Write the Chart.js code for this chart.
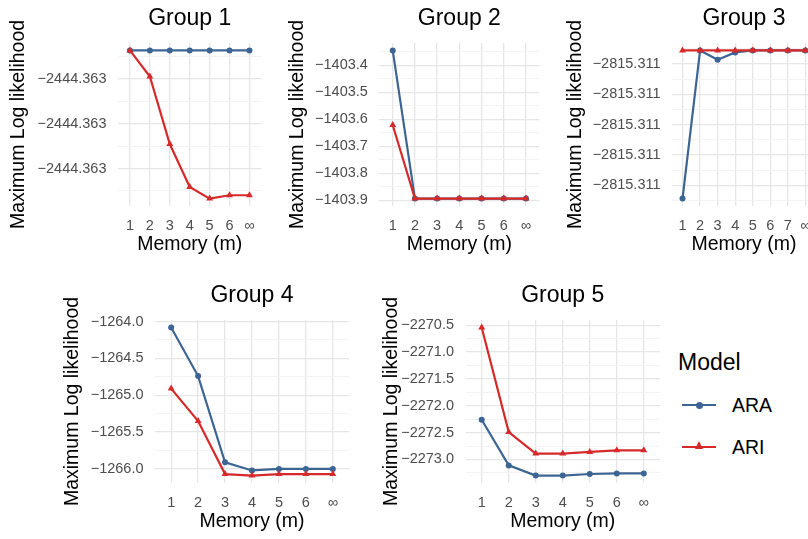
<!DOCTYPE html>
<html>
<head>
<meta charset="utf-8">
<script src="https://cdn.jsdelivr.net/npm/chart.js@4.4.1/dist/chart.umd.min.js"></script>
<style>
  html, body { margin: 0; padding: 0; background: #fff; }
  body { width: 808px; height: 539px; position: relative; overflow: hidden;
         font-family: "Liberation Sans", Arial, Helvetica, sans-serif; }
  .panel { position: absolute; }
  .lg { position: absolute; color: #000; white-space: nowrap; }
  .key { position: absolute; height: 2px; }
  .dot { position: absolute; width: 7px; height: 7px; border-radius: 50%; }
  .tri { position: absolute; width: 0; height: 0; border-left: 4.5px solid transparent;
         border-right: 4.5px solid transparent; border-bottom: 8px solid #d62a2a; }
</style>
</head>
<body>
<canvas class="panel" id="c1"></canvas>
<canvas class="panel" id="c2"></canvas>
<canvas class="panel" id="c3"></canvas>
<canvas class="panel" id="c4"></canvas>
<canvas class="panel" id="c5"></canvas>

<!-- legend -->
<div class="lg" style="left:678px; top:349px; font-size:23px; line-height:26px;">Model</div>
<div class="key" style="left:682px; top:404px; width:34px; background:#3d6593;"></div>
<div class="dot" style="left:695.5px; top:401.5px; background:#3d6593;"></div>
<div class="lg" style="left:732px; top:394px; font-size:19.5px; line-height:22px;">ARA</div>
<div class="key" style="left:682px; top:446px; width:34px; background:#d62a2a;"></div>
<div class="tri" style="left:694.5px; top:441px;"></div>
<div class="lg" style="left:732px; top:436px; font-size:19.5px; line-height:22px;">ARI</div>

<script>
// x categories (memory m)
var memory7 = ['1', '2', '3', '4', '5', '6', '\u221e'];
var memory8 = ['1', '2', '3', '4', '5', '6', '7', '\u221e'];

// Group 1
var g1ARA = [-2444.3627366, -2444.3627366, -2444.3627366, -2444.3627366, -2444.3627366, -2444.3627366, -2444.3627366];
var g1ARI = [-2444.3627366, -2444.3627949, -2444.3629455, -2444.3630411, -2444.3630671, -2444.3630597, -2444.3630597];
var g1Ticks = [-2444.3628, -2444.3629, -2444.3630];

// Group 2
var g2ARA = [-1403.345, -1403.893, -1403.893, -1403.893, -1403.893, -1403.893, -1403.893];
var g2ARI = [-1403.621, -1403.893, -1403.893, -1403.893, -1403.893, -1403.893, -1403.893];
var g2Ticks = [-1403.4, -1403.5, -1403.6, -1403.7, -1403.8, -1403.9];

// Group 3
var g3ARA = [-2815.3114876, -2815.3105104, -2815.3105717, -2815.3105236, -2815.3105104, -2815.3105104, -2815.3105104, -2815.3105104];
var g3ARI = [-2815.3105104, -2815.3105104, -2815.3105104, -2815.3105104, -2815.3105104, -2815.3105104, -2815.3105104, -2815.3105104];
var g3Ticks = [-2815.3106, -2815.3108, -2815.3110, -2815.3112, -2815.3114];

// Group 4
var g4ARA = [-1264.08, -1264.74, -1265.91, -1266.02, -1266.00, -1266.00, -1266.00];
var g4ARI = [-1264.91, -1265.35, -1266.07, -1266.09, -1266.07, -1266.07, -1266.07];
var g4Ticks = [-1264.0, -1264.5, -1265.0, -1265.5, -1266.0];

// Group 5
var g5ARA = [-2272.26, -2273.11, -2273.30, -2273.30, -2273.27, -2273.26, -2273.26];
var g5ARI = [-2270.54, -2272.49, -2272.89, -2272.89, -2272.86, -2272.83, -2272.83];
var g5Ticks = [-2270.5, -2271.0, -2271.5, -2272.0, -2272.5, -2273.0];

var FONT = '"Liberation Sans", Arial, Helvetica, sans-serif';
var BLUE = '#3d6593';
var RED = '#d62a2a';

// 面板位置
var layouts = {
    c1: { left: 0,   top: 0,   yTitleX: 19,  plotLeft: 118,   plotRight: 262 },
    c2: { left: 270, top: 0,   yTitleX: 298, plotLeft: 379.4, plotRight: 539.3 },
    c3: { left: 545, top: 0,   yTitleX: 576, plotLeft: 672,   plotRight: 817.3 },
    c4: { left: 40,  top: 277, yTitleX: 73,  plotLeft: 155,   plotRight: 349 },
    c5: { left: 360, top: 277, yTitleX: 392, plotLeft: 465.5, plotRight: 660 }
};

function fmt(v, d) {
    var s = Math.abs(v).toFixed(d);
    return (v < 0 ? '\u2212' : '') + s;
}

function makePanel(id, title, cats, ara, ari, majors, decimals) {
    var lay = layouts[id];
    var canvas = document.getElementById(id);
    var H = 262;
    var W = Math.ceil(lay.plotRight + 4 - lay.left);
    canvas.width = W;
    canvas.height = H;
    canvas.style.left = lay.left + 'px';
    canvas.style.top = lay.top + 'px';
    canvas.style.width = W + 'px';
    canvas.style.height = H + 'px';

    var padLeft = lay.yTitleX - 11.7 - lay.left;
    var yWidth = lay.plotLeft - lay.left - padLeft;
    var padRight = W - (lay.plotRight - lay.left);

    // ggplot-style 5% expansion
    var all = ara.concat(ari);
    var lo = Math.min.apply(null, all), hi = Math.max.apply(null, all);
    var ex = (hi - lo) * 0.05;
    var yMin = lo - ex, yMax = hi + ex;

    var step = majors[1] - majors[0];
    var yTicks = majors.map(function(v) { return { value: v, minor: false }; });
    var mids = [majors[0] - step / 2];
    for (var i = 0; i < majors.length; i++) mids.push(majors[i] + step / 2);
    mids.forEach(function(v) {
        if (v >= yMin && v <= yMax) yTicks.push({ value: v, minor: true });
    });
    yTicks.sort(function(a, b) { return a.value - b.value; });

    var toPts = function(arr) {
        return arr.map(function(y, i) { return { x: i + 1, y: y }; });
    };

    return new Chart(canvas.getContext('2d'), {
        type: 'line',
        data: {
            datasets: [{
                label: 'ARA',
                data: toPts(ara),
                borderColor: BLUE,
                backgroundColor: BLUE,
                borderWidth: 2.2,
                pointStyle: 'circle',
                pointRadius: 3,
                pointBorderWidth: 0,
                tension: 0,
                order: 1
            }, {
                label: 'ARI',
                data: toPts(ari),
                borderColor: RED,
                backgroundColor: RED,
                borderWidth: 2.2,
                pointStyle: 'triangle',
                pointRadius: 4,
                pointBorderWidth: 0,
                tension: 0,
                order: 0
            }]
        },
        options: {
            responsive: false,
            animation: false,
            devicePixelRatio: 1,
            layout: { padding: { left: padLeft, right: padRight, top: 0, bottom: 6 } },
            plugins: {
                legend: { display: false },
                tooltip: { enabled: false },
                title: {
                    display: true,
                    text: title,
                    fullSize: false,
                    color: '#000',
                    font: { family: FONT, size: 23, weight: 'normal', lineHeight: 1.2 },
                    padding: { top: 4.5, bottom: 10.9 }
                }
            },
            scales: {
                x: {
                    type: 'linear',
                    min: 0.4,
                    max: cats.length + 0.6,
                    afterBuildTicks: function(scale) {
                        scale.ticks = cats.map(function(c, i) { return { value: i + 1 }; });
                    },
                    afterFit: function(scale) { scale.height = 50; },
                    ticks: {
                        autoSkip: false,
                        maxRotation: 0,
                        padding: 11,
                        color: '#4d4d4d',
                        font: { family: FONT, size: 14.5 },
                        callback: function(v) { return cats[Math.round(v) - 1]; }
                    },
                    grid: { color: '#e6e6e6', lineWidth: 1.3, drawTicks: false },
                    border: { display: false },
                    title: {
                        display: true,
                        text: 'Memory (m)',
                        color: '#000',
                        padding: 0,
                        font: { family: FONT, size: 19.5, lineHeight: 1.2 }
                    }
                },
                y: {
                    type: 'linear',
                    min: yMin,
                    max: yMax,
                    afterBuildTicks: function(scale) { scale.ticks = yTicks.slice(); },
                    afterFit: function(scale) { scale.width = yWidth; },
                    ticks: {
                        autoSkip: false,
                        padding: 11.5,
                        color: '#4d4d4d',
                        font: { family: FONT, size: 14.5 },
                        callback: function(v, idx, ticks) {
                            return ticks[idx].minor ? '' : fmt(v, decimals);
                        }
                    },
                    grid: {
                        drawTicks: false,
                        color: function(ctx) { return ctx.tick && ctx.tick.minor ? '#f2f2f2' : '#e6e6e6'; },
                        lineWidth: function(ctx) { return ctx.tick && ctx.tick.minor ? 0.9 : 1.3; }
                    },
                    border: { display: false },
                    title: {
                        display: true,
                        text: 'Maximum Log likelihood',
                        color: '#000',
                        padding: 0,
                        font: { family: FONT, size: 19.5, lineHeight: 1.2 }
                    }
                }
            }
        }
    });
}

makePanel('c1', 'Group 1', memory7, g1ARA, g1ARI, g1Ticks, 3);
makePanel('c2', 'Group 2', memory7, g2ARA, g2ARI, g2Ticks, 1);
makePanel('c3', 'Group 3', memory8, g3ARA, g3ARI, g3Ticks, 3);
makePanel('c4', 'Group 4', memory7, g4ARA, g4ARI, g4Ticks, 1);
makePanel('c5', 'Group 5', memory7, g5ARA, g5ARI, g5Ticks, 1);
</script>
</body>
</html>
